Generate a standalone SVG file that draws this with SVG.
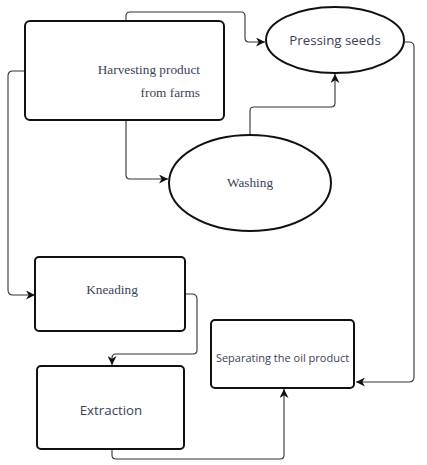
<svg xmlns="http://www.w3.org/2000/svg" width="427" height="465" viewBox="0 0 427 465">
<defs>
<marker id="arr" viewBox="0 0 10 10" refX="10" refY="5" markerWidth="9" markerHeight="9" markerUnits="userSpaceOnUse" orient="auto">
<path d="M0,0 L10,5 L0,10 L3,5 Z" fill="#111"/>
</marker>
<style>
.node{fill:#fff;stroke:#111;stroke-width:2}
.conn{fill:none;stroke:#333;stroke-width:1.1;marker-end:url(#arr)}
.serif{font-family:"Liberation Serif","Times New Roman",serif;font-size:13.3px;fill:#3a4258}
.sans{font-family:"Open Sans","DejaVu Sans",sans-serif;font-size:13.3px;fill:#3a4258}
</style>
</defs>
<rect width="427" height="465" fill="#fff"/>
<g id="connectors">
<path class="conn" d="M126,21 V16 Q126,12 130,12 H241 Q245,12 245,16 V38 Q245,42 249,42 H265"/>
<path class="conn" d="M126,120 V175 Q126,179 130,179 H168"/>
<path class="conn" d="M250,135 V111 Q250,107 254,107 H331 Q335,107 335,103 V74"/>
<path class="conn" d="M404,42 H409 Q414,42 414,47 V377 Q414,382 409,382 H356"/>
<path class="conn" d="M25,71 H13 Q8,71 8,76 V290 Q8,295 13,295 H35"/>
<path class="conn" d="M185,294 H192 Q197,294 197,299 V350 Q197,354 193,354 H116 Q112,354 112,358 V365"/>
<path class="conn" d="M112,449 V455 Q112,459 116,459 H280 Q284,459 284,455 V389"/>
</g>
<g id="harvesting">
<rect class="node" x="25" y="21" width="199" height="99" rx="5"/>
<text class="serif" x="200" y="74" text-anchor="end">Harvesting product</text>
<text class="serif" x="200" y="97" text-anchor="end">from farms</text>
</g>
<g id="pressing">
<ellipse class="node" cx="335" cy="40" rx="69" ry="33"/>
<text class="sans" x="335" y="45" text-anchor="middle">Pressing seeds</text>
</g>
<g id="washing">
<ellipse class="node" cx="250" cy="183" rx="81" ry="48"/>
<text class="serif" x="250" y="187" text-anchor="middle">Washing</text>
</g>
<g id="kneading">
<rect class="node" x="35" y="257" width="150" height="74" rx="4"/>
<text class="serif" x="112" y="294" text-anchor="middle">Kneading</text>
</g>
<g id="extraction">
<rect class="node" x="37" y="366" width="147" height="83" rx="4"/>
<text class="sans" x="111" y="415" text-anchor="middle">Extraction</text>
</g>
<g id="separating">
<rect class="node" x="211" y="320" width="143" height="68" rx="4"/>
<text class="sans" x="282.5" y="362" text-anchor="middle" style="font-size:11px">Separating the oil product</text>
</g>
</svg>
